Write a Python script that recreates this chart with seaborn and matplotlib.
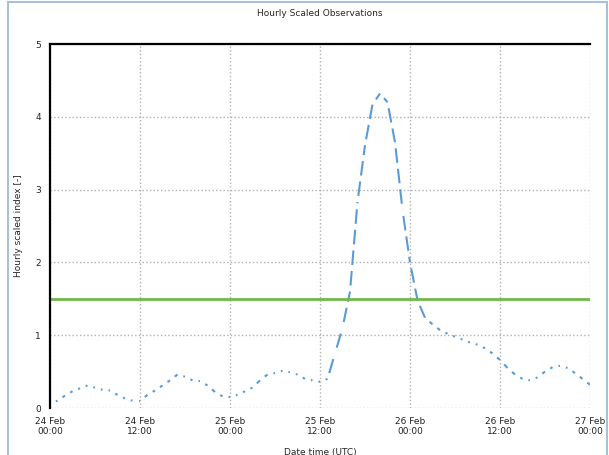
import numpy as np
import pandas as pd
import matplotlib
matplotlib.use("Agg")
import matplotlib.pyplot as plt
import seaborn as sns
from matplotlib.patches import Rectangle

# hourly values (hours since start)
hours = list(range(73))
index_values = [
    0.07, 0.10, 0.17, 0.23, 0.27, 0.31, 0.28, 0.25, 0.24, 0.18,
    0.13, 0.10, 0.10, 0.18, 0.24, 0.31, 0.38, 0.46, 0.43, 0.38,
    0.37, 0.31, 0.22, 0.16, 0.15, 0.18, 0.23, 0.28, 0.38, 0.46,
    0.48, 0.51, 0.49, 0.46, 0.40, 0.38, 0.36, 0.40, 0.75, 1.10,
    1.60, 2.83, 3.61, 4.17, 4.32, 4.20, 3.65, 2.72, 2.00, 1.48,
    1.24, 1.15, 1.07, 1.02, 0.98, 0.94, 0.90, 0.87, 0.82, 0.75,
    0.66, 0.55, 0.46, 0.40, 0.38, 0.42, 0.50, 0.56, 0.58, 0.55,
    0.48, 0.40, 0.32,
]
threshold = 1.5
tick_hours = [0, 12, 24, 36, 48, 60, 72]
tick_labels = ["24 Feb\n00:00", "24 Feb\n12:00", "25 Feb\n00:00", "25 Feb\n12:00",
               "26 Feb\n00:00", "26 Feb\n12:00", "27 Feb\n00:00"]
y_ticks = [0, 1, 2, 3, 4, 5]

sns.set_theme(style="white")
plt.rcParams['font.family'] = ['DejaVu Sans']

df = pd.DataFrame({'hour': hours, 'value': index_values})

fig = plt.figure(figsize=(6.09, 4.55), dpi=100)
ax = fig.add_axes([50 / 609, 47 / 455, 540 / 609, 364 / 455])

# each hourly segment drawn on its own so the dash pattern restarts
for i in range(len(df) - 1):
    seg = df.iloc[i:i + 2]
    sns.lineplot(data=seg, x='hour', y='value', ax=ax, color='#5b9bd5',
                 lw=1.5, linestyle=(7.0, (7.0, 2.9)), dash_capstyle='butt')

ax.axhline(threshold, color='#70b84a', lw=2)

ax.set_xlim(0, 72)
ax.set_ylim(0, 5)
ax.set_xticks(tick_hours)
ax.set_xticklabels(tick_labels)
ax.set_yticks(y_ticks)
ax.grid(True, linestyle=':', color='#b0b0b0', lw=1)
ax.tick_params(labelsize=6.5, length=0, pad=6.5, colors='#222222')

for side in ['bottom', 'right']:
    ax.spines[side].set_visible(False)
for side in ['left', 'top']:
    ax.spines[side].set_color('black')
    ax.spines[side].set_linewidth(1.6)

ax.set_xlabel('Date time (UTC)', fontsize=6.5, labelpad=8)
ax.set_ylabel('Hourly scaled index [-]', fontsize=6.5, labelpad=9)
fig.text(320 / 609, 1 - 13 / 455, 'Hourly Scaled Observations',
         ha='center', va='center', fontsize=6.5)

# light frame around the figure
fig.patches.append(Rectangle((8 / 609, -0.02), 599 / 609, 1.02 - 1.5 / 455,
                             transform=fig.transFigure, fill=False,
                             edgecolor='#a8c0d8', lw=1.5))

fig.savefig('out.png', dpi=100)
